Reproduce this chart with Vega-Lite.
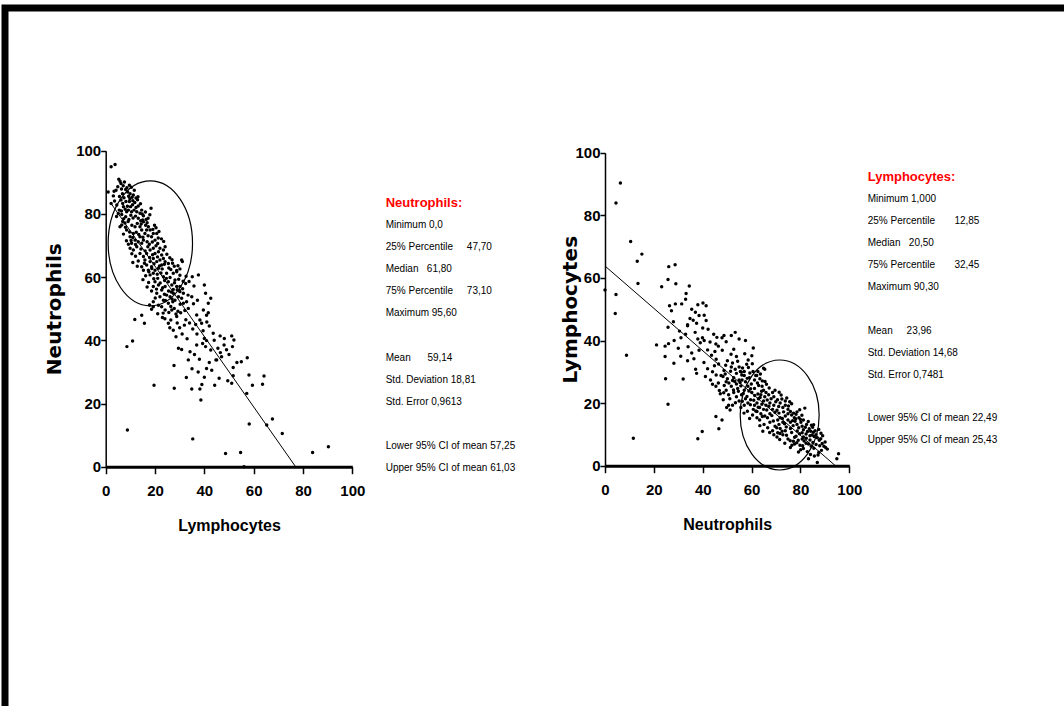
{
"$schema": "https://vega.github.io/schema/vega-lite/v6.json",
"width": 1059,
"height": 698,
"autosize": {"type": "none"},
"padding": {"left": 5, "top": 8, "right": 0, "bottom": 0},
"background": "white",
"config": {
  "view": {"stroke": "black", "strokeWidth": 7, "strokeDash": [1059, 1757, 698, 0], "strokeCap": "square", "fill": null},
  "axis": {"grid": false, "domainColor": "black", "tickColor": "black", "labelColor": "black", "titleColor": "black", "labelFont": "Liberation Sans", "labelFontWeight": "bold", "labelFontSize": 15, "tickWidth": 1.5, "labelFlush": false, "labelOverlap": false},
  "axisX": {"domainWidth": 3, "tickSize": 7, "labelPadding": 10, "titleFont": "Liberation Sans", "titleFontSize": 16, "titleFontWeight": "bold", "titlePadding": 19},
  "axisY": {"domainWidth": 1.5, "tickSize": 5, "labelPadding": 0, "titleFont": "DejaVu Sans", "titleFontSize": 20, "titleFontWeight": "bold"}
},
"datasets": {
"cells": [
{"L":1.0,"N":86.9},{"L":2.2,"N":94.9},{"L":3.8,"N":95.6},{"L":8.8,"N":11.6},{"L":8.6,"N":38},{"L":10.9,"N":39.8},{"L":11.8,"N":46.6},{"L":15.7,"N":45.4},{"L":14.6,"N":47.9},{"L":19.6,"N":25.8},
{"L":27.7,"N":32},{"L":27.8,"N":24.8},{"L":32.7,"N":28.2},{"L":30.8,"N":37.1},{"L":35.3,"N":8.8},{"L":34.9,"N":24.6},{"L":38.6,"N":21.1},{"L":38.2,"N":24.6},{"L":40,"N":28.3},{"L":40.9,"N":31.1},
{"L":44.2,"N":25.8},{"L":48.6,"N":4.2},{"L":54.7,"N":4.5},{"L":56.1,"N":0},{"L":49.5,"N":27.2},{"L":51.1,"N":26.4},{"L":57.2,"N":23.2},{"L":58.2,"N":13.5},{"L":58.1,"N":29},{"L":59.5,"N":25.8},
{"L":63.6,"N":26.1},{"L":64.2,"N":28.7},{"L":57.4,"N":34.5},{"L":55,"N":33.2},{"L":53.2,"N":33},{"L":51.7,"N":31.4},{"L":51.7,"N":28.8},{"L":51.1,"N":41.4},{"L":52,"N":40.1},{"L":51.4,"N":38},
{"L":48.1,"N":40.6},{"L":46.4,"N":41.4},{"L":46.5,"N":36.1},{"L":47,"N":34.8},{"L":44.7,"N":33.8},{"L":65.3,"N":13.2},{"L":67.6,"N":15.1},{"L":71.6,"N":10.5},{"L":83.9,"N":4.5},{"L":90.3,"N":6.3},
{"L":18.4,"N":81.8},
{"L":37.6,"N":60.7},{"L":35.8,"N":57.2},{"L":32.4,"N":58},{"L":30.1,"N":55.4},{"L":32.8,"N":52.2},{"L":33.5,"N":50.1},{"L":30.4,"N":48.7},{"L":28.8,"N":47.5},{"L":31.9,"N":44.8},{"L":35.3,"N":43.6},
{"L":36.9,"N":48},{"L":38.2,"N":46.4},{"L":40,"N":57.5},{"L":40.5,"N":54.9},{"L":41.6,"N":51.7},{"L":42.6,"N":53.3},{"L":41.6,"N":48.7},{"L":40.9,"N":47.9},{"L":39.6,"N":49.6},{"L":38.9,"N":45.4},
{"L":36.9,"N":38.5},{"L":34.2,"N":36.4},{"L":33.5,"N":33.8},{"L":39.3,"N":39},{"L":40,"N":40.6},{"L":40.9,"N":39.9},{"L":40.5,"N":38},{"L":42.6,"N":36.9},{"L":43.6,"N":42.2},{"L":45,"N":33.8},
{"L":31.5,"N":51.7},{"L":34.9,"N":53.8},{"L":26.8,"N":49.6},{"L":25.4,"N":45.4},{"L":27.4,"N":43.2},{"L":28.5,"N":41.1},{"L":26.4,"N":46.4},
{"L":37,"N":42},{"L":39.5,"N":43},{"L":42,"N":44.5},{"L":44,"N":40},{"L":36,"N":35.5},{"L":38,"N":34},{"L":35,"N":31},{"L":29.5,"N":37.5},{"L":33,"N":40.5},{"L":30,"N":44},
{"L":43,"N":30.5},{"L":46,"N":28},{"L":48,"N":38.5},{"L":49,"N":37},{"L":50,"N":35.5},{"L":45.5,"N":37.5},{"L":42,"N":33},{"L":37.5,"N":30},{"L":39,"N":26},{"L":34,"N":45.5},
{"L":24,"N":46.8},{"L":26,"N":44},{"L":29,"N":45.5},{"L":31,"N":42},{"L":32.5,"N":46.5},{"L":36.5,"N":45},{"L":23,"N":47.2},{"L":41,"N":45.8},
{"L":3.4,"N":87.2},{"L":4.2,"N":87.5},{"L":5.3,"N":91},{"L":5.8,"N":90.3},{"L":6.2,"N":89.6},{"L":7.1,"N":88.9},{"L":7.6,"N":90.1},{"L":8.1,"N":87.7},{"L":8.6,"N":88.3},{"L":9.3,"N":85.6},
{"L":9.9,"N":86.4},{"L":11.2,"N":86},{"L":12.3,"N":85},{"L":6.8,"N":86.4},{"L":5.6,"N":85.5},{"L":10.4,"N":88.4},{"L":7.4,"N":85.1},{"L":4.9,"N":88.6},{"L":8.9,"N":86.9},{"L":13.1,"N":85.4},
{"L":11.6,"N":87.5},{"L":3.1,"N":85.7},{"L":6.4,"N":87.9},{"L":10.7,"N":85.3},{"L":9.6,"N":89.1},
{"L":2.2,"N":83.3},{"L":3.6,"N":84.1},{"L":4.5,"N":82.8},{"L":5.5,"N":81.2},{"L":6.2,"N":84.4},{"L":6.9,"N":83.3},{"L":7.2,"N":82.3},{"L":8.2,"N":83.9},{"L":8.5,"N":80.7},{"L":9.2,"N":81.2},
{"L":9.6,"N":83.9},{"L":10.1,"N":82.3},{"L":10.5,"N":80.7},{"L":11.5,"N":81.2},{"L":11.8,"N":83.6},{"L":12.6,"N":80.7},{"L":13.2,"N":82.5},{"L":13.9,"N":80.2},{"L":14.6,"N":81.2},{"L":15.3,"N":79.4},
{"L":16.1,"N":80.6},{"L":13.2,"N":78.6},{"L":12.1,"N":79.3},{"L":11.1,"N":78.7},{"L":10.2,"N":79.6},{"L":9.4,"N":78.2},{"L":8.1,"N":79.1},{"L":7.3,"N":78.5},{"L":6.5,"N":79.8},{"L":5.1,"N":80.1},
{"L":4.4,"N":79.2},{"L":17.2,"N":78.6},{"L":16.4,"N":78.2},{"L":15,"N":78.1},{"L":14.1,"N":83.2},{"L":12.9,"N":84.5},{"L":11,"N":84.2},{"L":9.8,"N":84.8},{"L":8.8,"N":82.4},{"L":7.9,"N":81.5},
{"L":6.4,"N":80.9},{"L":10.9,"N":82.9},{"L":12.3,"N":82},{"L":14.8,"N":80},{"L":17.9,"N":79.7},
{"L":5.8,"N":75.9},{"L":6.5,"N":76.5},{"L":7.8,"N":77.1},{"L":8.5,"N":74.9},{"L":9.9,"N":72.8},{"L":11.2,"N":73.8},{"L":11.9,"N":75.9},{"L":12.8,"N":77},{"L":13.9,"N":75.9},{"L":14.6,"N":74.9},
{"L":15.3,"N":77.5},{"L":15.9,"N":73.8},{"L":16.6,"N":74.9},{"L":17.3,"N":75.9},{"L":18,"N":74.9},{"L":18.6,"N":72.8},{"L":19.3,"N":73.8},{"L":20,"N":71.7},{"L":20.7,"N":73.8},{"L":21.6,"N":74.4},
{"L":13.9,"N":72.8},{"L":13.2,"N":71.2},{"L":14.6,"N":70.7},{"L":15.3,"N":71.7},{"L":11.9,"N":71.7},{"L":10.5,"N":70.7},{"L":9.2,"N":70.4},{"L":12.4,"N":74.2},{"L":10.6,"N":76.4},{"L":9.1,"N":77.6},
{"L":7.2,"N":73.6},{"L":8.4,"N":71.5},{"L":16.8,"N":71.2},{"L":17.7,"N":70.4},{"L":18.9,"N":71.1},{"L":19.8,"N":76.4},{"L":21.1,"N":70.6},{"L":22.6,"N":72.1},{"L":23.5,"N":71.3},{"L":14.4,"N":76.8},
{"L":16.2,"N":76.4},{"L":12.1,"N":70.3},{"L":11,"N":72.5},{"L":13.4,"N":73.5},{"L":15.1,"N":72.6},{"L":17.2,"N":73.1},{"L":19.1,"N":75.1},{"L":20.4,"N":75.6},{"L":9.7,"N":74.3},{"L":8,"N":75.8},
{"L":6.9,"N":77.6},{"L":21.3,"N":72.4},{"L":14.2,"N":77.8},{"L":16.8,"N":77.2},{"L":10.3,"N":71.6},
{"L":9.9,"N":69.1},{"L":11.2,"N":68.6},{"L":12.6,"N":69.6},{"L":13.9,"N":67.5},{"L":15.3,"N":66.5},{"L":16.6,"N":67.5},{"L":18,"N":68.6},{"L":19.3,"N":69.1},{"L":20,"N":67.5},{"L":21.4,"N":68},
{"L":22,"N":69.1},{"L":22.7,"N":67},{"L":23.4,"N":68.6},{"L":24.1,"N":69.6},{"L":23.4,"N":65.9},{"L":22,"N":65.4},{"L":20.7,"N":64.9},{"L":19.3,"N":65.9},{"L":18,"N":64.9},{"L":16.6,"N":63.8},
{"L":15.9,"N":65.4},{"L":14.6,"N":63.3},{"L":15.3,"N":62.2},{"L":17.3,"N":62.2},{"L":18.6,"N":63.3},{"L":20,"N":62.2},{"L":21.4,"N":62.8},{"L":22.7,"N":63.8},{"L":24.1,"N":64.9},{"L":25.4,"N":64.3},
{"L":26.4,"N":62.4},{"L":28.8,"N":62.1},{"L":30.1,"N":62.6},{"L":30.8,"N":65.4},{"L":31.1,"N":64.9},{"L":12.1,"N":66.6},{"L":11,"N":64.6},{"L":13.2,"N":65.1},{"L":14.3,"N":68.9},{"L":17.1,"N":69.6},
{"L":19,"N":67.1},{"L":21,"N":66.4},{"L":24.8,"N":67.2},{"L":26,"N":66.1},{"L":27.1,"N":64.4},{"L":16,"N":68.3},{"L":12.8,"N":63.4},{"L":17.8,"N":66.2},{"L":20.4,"N":69.9},{"L":22.9,"N":62.6},
{"L":25.6,"N":62.9},{"L":27.8,"N":63.4},{"L":10.6,"N":67.4},{"L":18.7,"N":62.7},{"L":23.8,"N":64.1},{"L":26.9,"N":65.5},{"L":29.3,"N":63.6},{"L":15.7,"N":64.4},{"L":21.8,"N":63.5},{"L":19.6,"N":64.2},
{"L":20,"N":58.5},{"L":19.3,"N":57},{"L":21.4,"N":57.5},{"L":22.7,"N":55.9},{"L":24.1,"N":57},{"L":25.4,"N":58.5},{"L":26.8,"N":57.5},{"L":28.1,"N":59.1},{"L":28.8,"N":57},{"L":18,"N":60.7},
{"L":19.3,"N":61.2},{"L":23.4,"N":60.1},{"L":24.7,"N":61.2},{"L":27.4,"N":61.2},{"L":28.8,"N":61.7},{"L":30.1,"N":60.6},{"L":30.1,"N":57},{"L":16.2,"N":60.4},{"L":15.1,"N":59.2},{"L":17.4,"N":58.3},
{"L":21.1,"N":59.6},{"L":22.4,"N":61.3},{"L":23.9,"N":58.9},{"L":26.1,"N":59.9},{"L":29.6,"N":59.3},{"L":31.4,"N":58.7},{"L":32.6,"N":60.3},{"L":33.8,"N":58.6},{"L":25.5,"N":55.6},{"L":27.4,"N":56.1},
{"L":29.9,"N":55.8},{"L":31.2,"N":56.3},{"L":20.6,"N":56.2},{"L":18.6,"N":55.6},{"L":17.5,"N":61.7},{"L":22.1,"N":58.1},{"L":26.6,"N":55.3},{"L":35.1,"N":60.1},{"L":24.6,"N":59.6},{"L":20.9,"N":60.9},
{"L":27.9,"N":58.2},{"L":16.8,"N":56.9},{"L":23.1,"N":56.6},{"L":19.5,"N":59.5},{"L":29,"N":56},
{"L":27.4,"N":54.9},{"L":26.1,"N":53.8},{"L":24.7,"N":54.3},{"L":23.4,"N":52.7},{"L":22,"N":53.8},{"L":20.7,"N":54.9},{"L":19.3,"N":52.2},{"L":19.3,"N":50.6},{"L":21.4,"N":51.1},{"L":22.7,"N":50.6},
{"L":24.1,"N":49.6},{"L":25.4,"N":51.7},{"L":27.2,"N":52.2},{"L":28.1,"N":52.7},{"L":29.5,"N":53.8},{"L":30.8,"N":53.3},{"L":31.5,"N":54.9},{"L":25.6,"N":48.8},{"L":27.8,"N":50.1},{"L":29.3,"N":49.2},
{"L":23.3,"N":48.6},{"L":21.1,"N":48.4},{"L":18.6,"N":49.8},{"L":26.4,"N":50.7},{"L":24.2,"N":52.6},{"L":30.2,"N":51.4},{"L":32.1,"N":49.4},{"L":33.4,"N":54.3},{"L":35.6,"N":51.6},{"L":37.2,"N":52.7},
{"L":20.1,"N":53.4},{"L":28.5,"N":48.3},{"L":17.8,"N":51.2},{"L":26.9,"N":53.1},{"L":23.8,"N":54.6}
]
},
"layer": [
  {
    "data": {"name": "cells"},
    "mark": {"type": "point", "filled": true, "shape": "circle", "size": 12, "color": "black", "opacity": 1},
    "encoding": {
      "x": {"field": "L", "type": "quantitative", "scale": {"domain": [0, 100], "range": [100.7, 347.3], "nice": false, "zero": false},
            "axis": {"orient": "bottom", "offset": -239.3, "values": [0, 20, 40, 60, 80, 100], "title": "Lymphocytes"}},
      "y": {"field": "N", "type": "quantitative", "scale": {"domain": [0, 100], "range": [458.7, 142.7], "nice": false, "zero": false},
            "axis": {"orient": "left", "offset": -100.7, "values": [0, 20, 40, 60, 80, 100], "title": "Neutrophils", "titlePadding": 11}}
    }
  },
  {
    "data": {"values": [{"L": 2, "N": 83.5}, {"L": 77, "N": 0}]},
    "mark": {"type": "line", "color": "black", "strokeWidth": 1},
    "encoding": {
      "x": {"field": "L", "type": "quantitative", "scale": {"domain": [0, 100], "range": [100.7, 347.3], "nice": false, "zero": false}, "axis": null},
      "y": {"field": "N", "type": "quantitative", "scale": {"domain": [0, 100], "range": [458.7, 142.7], "nice": false, "zero": false}, "axis": null}
    }
  },
  {
    "data": {"values": [{"L": 18.1, "N": 70.7}]},
    "mark": {"type": "point", "shape": "M -0.675 0 A 0.675 1 0 1 1 0.675 0 A 0.675 1 0 1 1 -0.675 0 Z", "size": 15625, "filled": false, "stroke": "black", "strokeWidth": 1.2, "opacity": 1},
    "encoding": {
      "x": {"field": "L", "type": "quantitative", "scale": {"domain": [0, 100], "range": [100.7, 347.3], "nice": false, "zero": false}, "axis": null},
      "y": {"field": "N", "type": "quantitative", "scale": {"domain": [0, 100], "range": [458.7, 142.7], "nice": false, "zero": false}, "axis": null}
    }
  },
  {
    "data": {"values": [{"i": 0, "t": "Neutrophils:"}]},
    "mark": {"type": "text", "align": "left", "baseline": "middle", "font": "Liberation Sans", "fontSize": 13, "fontWeight": "bold", "color": "#ff0000"},
    "encoding": {
      "x": {"datum": 0, "type": "quantitative", "scale": {"domain": [0, 1], "range": [380.7, 480]}, "axis": null},
      "y": {"field": "i", "type": "quantitative", "scale": {"domain": [0, 12], "range": [194.9, 460.3], "nice": false, "zero": false}, "axis": null},
      "text": {"field": "t"}
    }
  },
  {
    "data": {"values": [
      {"i": 1, "t": "Minimum\u00a00,0"},
      {"i": 2, "t": "25% Percentile\u00a0\u00a0\u00a0\u00a0\u00a047,70"},
      {"i": 3, "t": "Median\u00a0\u00a0\u00a061,80"},
      {"i": 4, "t": "75% Percentile\u00a0\u00a0\u00a0\u00a0\u00a073,10"},
      {"i": 5, "t": "Maximum\u00a095,60"},
      {"i": 7, "t": "Mean\u00a0\u00a0\u00a0\u00a0\u00a0\u00a059,14"},
      {"i": 8, "t": "Std. Deviation\u00a018,81"},
      {"i": 9, "t": "Std. Error\u00a00,9613"},
      {"i": 11, "t": "Lower 95% CI of mean\u00a057,25"},
      {"i": 12, "t": "Upper 95% CI of mean\u00a061,03"}
    ]},
    "mark": {"type": "text", "align": "left", "baseline": "middle", "font": "Liberation Sans", "fontSize": 10, "color": "black"},
    "encoding": {
      "x": {"datum": 0, "type": "quantitative", "scale": {"domain": [0, 1], "range": [380.7, 480]}, "axis": null},
      "y": {"field": "i", "type": "quantitative", "scale": {"domain": [0, 12], "range": [194.9, 460.3], "nice": false, "zero": false}, "axis": null},
      "text": {"field": "t"}
    }
  },
  {
    "data": {"name": "cells"},
    "mark": {"type": "point", "filled": true, "shape": "circle", "size": 12, "color": "black", "opacity": 1},
    "encoding": {
      "x": {"field": "N", "type": "quantitative", "scale": {"domain": [0, 100], "range": [600, 844.3], "nice": false, "zero": false},
            "axis": {"orient": "bottom", "offset": -240.3, "values": [0, 20, 40, 60, 80, 100], "title": "Neutrophils"}},
      "y": {"field": "L", "type": "quantitative", "scale": {"domain": [0, 100], "range": [457.7, 144.7], "nice": false, "zero": false},
            "axis": {"orient": "left", "offset": -600, "values": [0, 20, 40, 60, 80, 100], "title": "Lymphocytes", "titlePadding": -6}}
    }
  },
  {
    "data": {"values": [{"N": 0, "L": 63.8}, {"N": 94.3, "L": 0}]},
    "mark": {"type": "line", "color": "black", "strokeWidth": 1},
    "encoding": {
      "x": {"field": "N", "type": "quantitative", "scale": {"domain": [0, 100], "range": [600, 844.3], "nice": false, "zero": false}, "axis": null},
      "y": {"field": "L", "type": "quantitative", "scale": {"domain": [0, 100], "range": [457.7, 144.7], "nice": false, "zero": false}, "axis": null}
    }
  },
  {
    "data": {"values": [{"N": 71.5, "L": 16.2}]},
    "mark": {"type": "point", "shape": "M -0.718 0 A 0.718 1 0 1 1 0.718 0 A 0.718 1 0 1 1 -0.718 0 Z", "size": 12100, "filled": false, "stroke": "black", "strokeWidth": 1.2, "opacity": 1},
    "encoding": {
      "x": {"field": "N", "type": "quantitative", "scale": {"domain": [0, 100], "range": [600, 844.3], "nice": false, "zero": false}, "axis": null},
      "y": {"field": "L", "type": "quantitative", "scale": {"domain": [0, 100], "range": [457.7, 144.7], "nice": false, "zero": false}, "axis": null}
    }
  },
  {
    "data": {"values": [{"i": 0, "t": "Lymphocytes:"}]},
    "mark": {"type": "text", "align": "left", "baseline": "middle", "font": "Liberation Sans", "fontSize": 13, "fontWeight": "bold", "color": "#ff0000"},
    "encoding": {
      "x": {"datum": 0, "type": "quantitative", "scale": {"domain": [0, 1], "range": [862.7, 960]}, "axis": null},
      "y": {"field": "i", "type": "quantitative", "scale": {"domain": [0, 12], "range": [169.4, 432.2], "nice": false, "zero": false}, "axis": null},
      "text": {"field": "t"}
    }
  },
  {
    "data": {"values": [
      {"i": 1, "t": "Minimum\u00a01,000"},
      {"i": 2, "t": "25% Percentile\u00a0\u00a0\u00a0\u00a0\u00a0\u00a0\u00a012,85"},
      {"i": 3, "t": "Median\u00a0\u00a0\u00a020,50"},
      {"i": 4, "t": "75% Percentile\u00a0\u00a0\u00a0\u00a0\u00a0\u00a0\u00a032,45"},
      {"i": 5, "t": "Maximum\u00a090,30"},
      {"i": 7, "t": "Mean\u00a0\u00a0\u00a0\u00a0\u00a023,96"},
      {"i": 8, "t": "Std. Deviation\u00a014,68"},
      {"i": 9, "t": "Std. Error\u00a00,7481"},
      {"i": 11, "t": "Lower 95% CI of mean\u00a022,49"},
      {"i": 12, "t": "Upper 95% CI of mean\u00a025,43"}
    ]},
    "mark": {"type": "text", "align": "left", "baseline": "middle", "font": "Liberation Sans", "fontSize": 10, "color": "black"},
    "encoding": {
      "x": {"datum": 0, "type": "quantitative", "scale": {"domain": [0, 1], "range": [862.7, 960]}, "axis": null},
      "y": {"field": "i", "type": "quantitative", "scale": {"domain": [0, 12], "range": [169.4, 432.2], "nice": false, "zero": false}, "axis": null},
      "text": {"field": "t"}
    }
  }
],
"resolve": {"scale": {"x": "independent", "y": "independent"}, "axis": {"x": "independent", "y": "independent"}}
}
